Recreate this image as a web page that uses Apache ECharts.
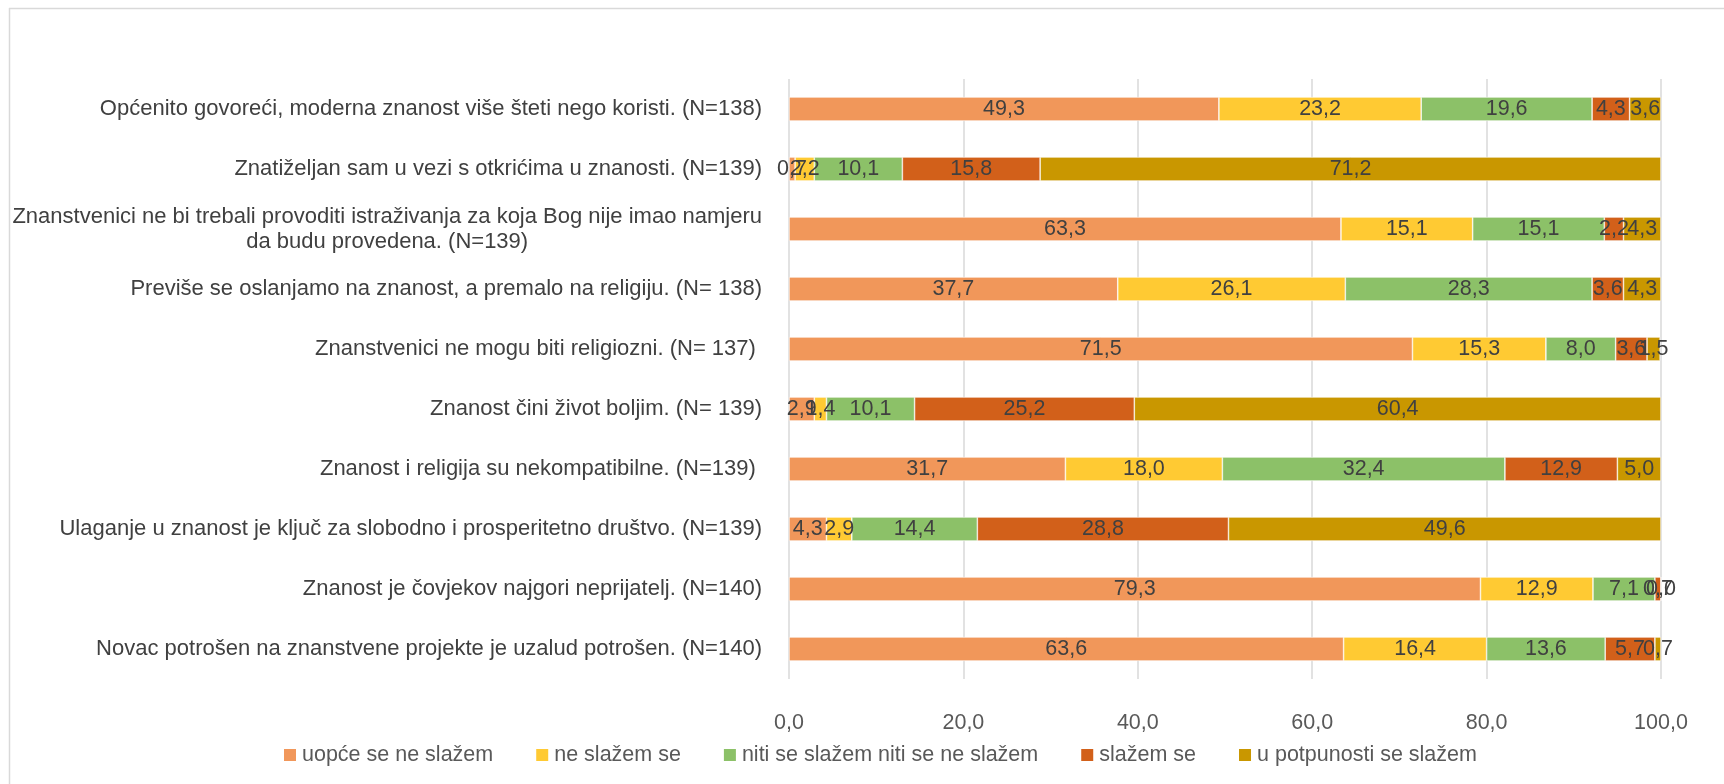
<!DOCTYPE html>
<html>
<head>
<meta charset="utf-8">
<script src="https://cdn.jsdelivr.net/npm/echarts@6/dist/echarts.min.js"></script>
<style>
html,body{margin:0;padding:0;background:#fff;}
#chart{width:1724px;height:784px;}
</style>
</head>
<body>
<div id="chart"></div>
<script>
var categories = [
  'Općenito govoreći, moderna znanost više šteti nego koristi. (N=138)',
  'Znatiželjan sam u vezi s otkrićima u znanosti. (N=139)',
  'Znanstvenici ne bi trebali provoditi istraživanja za koja Bog nije imao namjeru\nda budu provedena. (N=139)',
  'Previše se oslanjamo na znanost, a premalo na religiju. (N= 138)',
  'Znanstvenici ne mogu biti religiozni. (N= 137) ',
  'Znanost čini život boljim. (N= 139)',
  'Znanost i religija su nekompatibilne. (N=139) ',
  'Ulaganje u znanost je ključ za slobodno i prosperitetno društvo. (N=139)',
  'Znanost je čovjekov najgori neprijatelj. (N=140)',
  'Novac potrošen na znanstvene projekte je uzalud potrošen. (N=140)'
];
var seriesNames = [
  'uopće se ne slažem',
  'ne slažem se',
  'niti se slažem niti se ne slažem',
  'slažem se',
  'u potpunosti se slažem'
];
var uopceSeNeSlazem   = [49.3, 0.7, 63.3, 37.7, 71.5, 2.9, 31.7, 4.3, 79.3, 63.6];
var neSlazemSe        = [23.2, 2.2, 15.1, 26.1, 15.3, 1.4, 18.0, 2.9, 12.9, 16.4];
var nitiNiti          = [19.6, 10.1, 15.1, 28.3, 8.0, 10.1, 32.4, 14.4, 7.1, 13.6];
var slazemSe          = [4.3, 15.8, 2.2, 3.6, 3.6, 25.2, 12.9, 28.8, 0.7, 5.7];
var uPotpunostiSlazem = [3.6, 71.2, 4.3, 4.3, 1.5, 60.4, 5.0, 49.6, 0.0, 0.7];
var xTicks = [0, 20, 40, 60, 80, 100];

var seriesData = [uopceSeNeSlazem, neSlazemSe, nitiNiti, slazemSe, uPotpunostiSlazem];
var colors = ['#F1975A', '#FFCA33', '#8CC168', '#D2601A', '#C99700'];
var FONT = 'Liberation Sans';
var FS = 21.5;
var FS_CAT = 22;

function fmt(v) { return Number(v).toFixed(1).replace('.', ','); }

var chart = echarts.init(document.getElementById('chart'));
var option = {
  animation: false,
  backgroundColor: '#ffffff',
  color: colors,
  graphic: [
    { type: 'line', shape: { x1: 9, y1: 8.5, x2: 1724, y2: 8.5 }, style: { stroke: '#d9d9d9', lineWidth: 1.5 } },
    { type: 'line', shape: { x1: 9.5, y1: 8, x2: 9.5, y2: 784 }, style: { stroke: '#d9d9d9', lineWidth: 1.5 } }
  ],
  grid: { left: 789, right: 63, top: 79, bottom: 105, containLabel: false },
  legend: {
    data: seriesNames,
    left: 277,
    top: 739,
    itemWidth: 14,
    itemHeight: 14,
    itemGap: 41,
    icon: 'rect',
    textStyle: { fontFamily: FONT, fontSize: FS, color: '#595959' }
  },
  xAxis: {
    type: 'value',
    min: 0,
    max: 100,
    interval: 20,
    axisLine: { show: false },
    axisTick: { show: false },
    splitLine: { show: true, lineStyle: { color: '#d9d9d9', width: 1.5 } },
    axisLabel: {
      margin: 33,
      fontFamily: FONT,
      fontSize: FS,
      color: '#595959',
      formatter: function (v) { return xTicks.indexOf(v) >= 0 ? fmt(v) : ''; }
    }
  },
  yAxis: {
    type: 'category',
    data: categories,
    inverse: true,
    axisLine: { show: false },
    axisTick: { show: false },
    axisLabel: {
      margin: 27,
      align: 'right',
      fontFamily: FONT,
      fontSize: FS_CAT,
      color: '#404040',
      lineHeight: 25,
      formatter: function (v) {
        return v.split('\n').map(function (l) { return '{c|' + l + '}'; }).join('\n');
      },
      rich: {
        c: { align: 'center', fontFamily: FONT, fontSize: FS_CAT, color: '#404040', lineHeight: 25 }
      }
    }
  },
  series: seriesNames.map(function (name, i) {
    return {
      name: name,
      type: 'bar',
      stack: 'total',
      barWidth: 24,
      data: seriesData[i],
      itemStyle: { color: colors[i], borderColor: '#ffffff', borderWidth: 0.6 },
      label: {
        show: true,
        position: 'inside',
        fontFamily: FONT,
        fontSize: FS,
        color: '#404040',
        formatter: function (p) { return fmt(p.value); }
      },
      labelLayout: { hideOverlap: false }
    };
  })
};
chart.setOption(option);
</script>
</body>
</html>
